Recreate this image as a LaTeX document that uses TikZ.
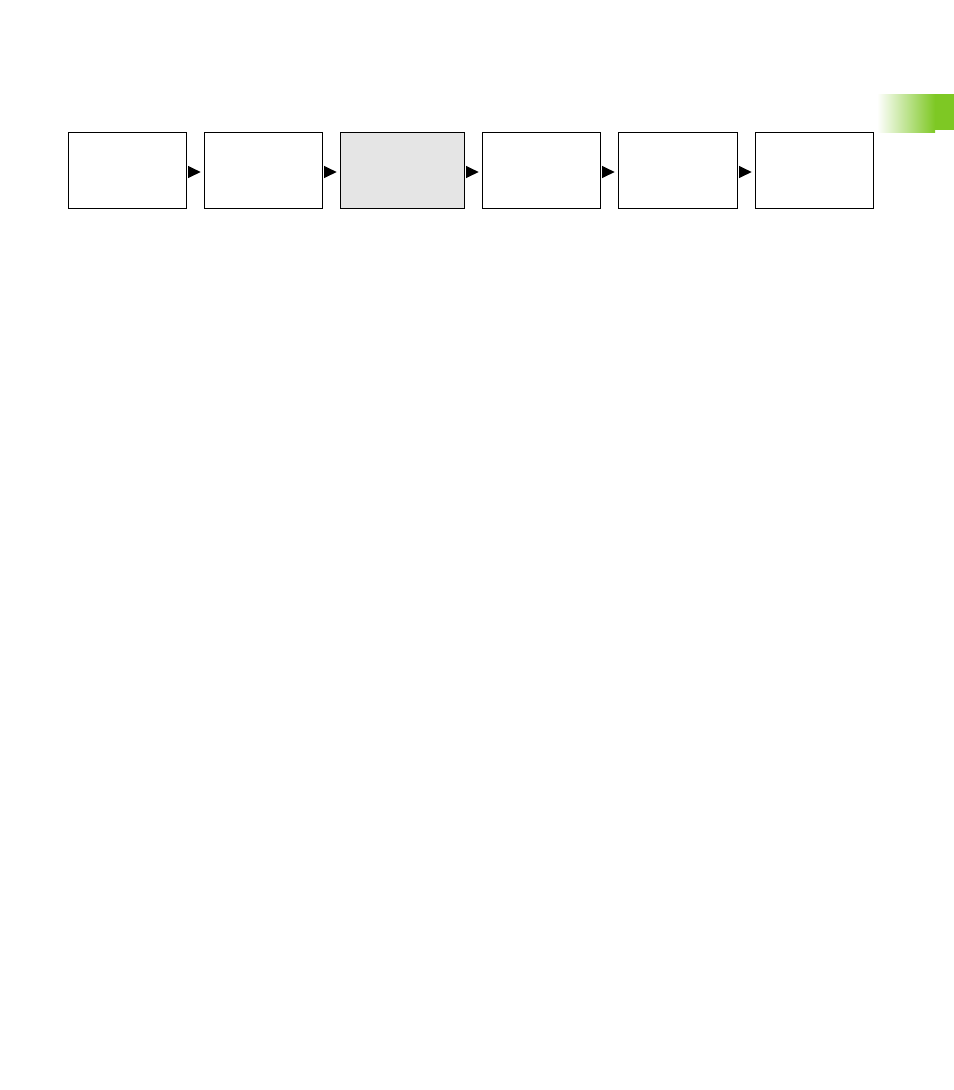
\documentclass[tikz,border=0pt]{standalone}
\usetikzlibrary{positioning}
\usetikzlibrary{arrows.meta}
\tikzset{>={Triangle[width=9pt,length=9.5pt]}}
\definecolor{tabgreen}{RGB}{126,200,36}

\begin{document}
\begin{tikzpicture}[x=0.75pt, y=-0.75pt, node distance=13.5pt, box/.style={rectangle, draw=black, line width=0.75pt, fill=white, outer sep=0pt, inner sep=0pt, minimum width=88.5pt, minimum height=57pt}, activebox/.style={box, fill=black!10, minimum width=93pt}, step arrow/.style={->, line width=0.75pt, shorten <=1.5pt, shorten >=2.5pt}]

    \useasboundingbox (0,0) rectangle (954,1090);

    %Tab
    \shade[left color=white, right color=tabgreen] (877,94) rectangle (935,132);
    \fill[tabgreen] (935,94) rectangle (954,130);

    %Nodes
    \node[box](one)[anchor=north west] at (68,132){};
    \node[box](two)[right=of one]{};
    \node[activebox](three)[right=of two]{};
    \node[box](four)[right=of three]{};
    \node[box, minimum width=89.25pt](five)[right=of four]{};
    \node[box](six)[right=of five]{};

    %Lines
    \draw[step arrow] ([yshift=-1.5pt]one.east) -- ([yshift=-1.5pt]two.west);
    \draw[step arrow] ([yshift=-1.5pt]two.east) -- ([yshift=-1.5pt]three.west);
    \draw[step arrow] ([yshift=-1.5pt]three.east) -- ([yshift=-1.5pt]four.west);
    \draw[step arrow] ([yshift=-1.5pt]four.east) -- ([yshift=-1.5pt]five.west);
    \draw[step arrow] ([yshift=-1.5pt]five.east) -- ([yshift=-1.5pt]six.west);

\end{tikzpicture}
\end{document}
